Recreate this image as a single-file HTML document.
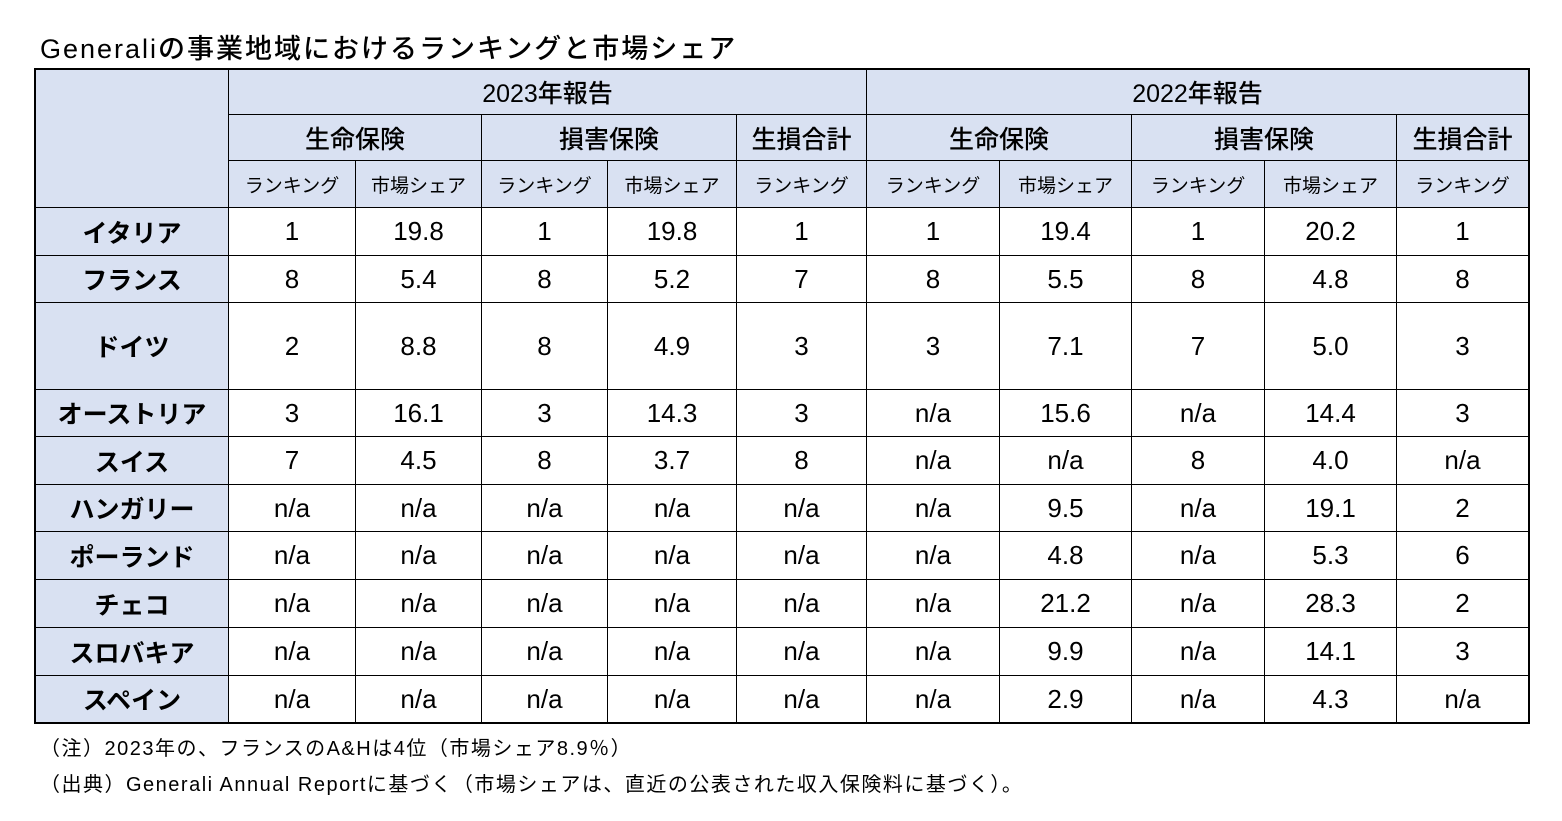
<!DOCTYPE html>
<html><head><meta charset="utf-8"><style>
body{margin:0;width:1562px;height:821px;background:#fff;position:relative;overflow:hidden;font-family:"Liberation Sans","Noto Sans CJK JP",sans-serif;color:#000}
.c{position:absolute;box-sizing:border-box;display:flex;align-items:center;justify-content:center;border:1px solid #000;white-space:nowrap}
.h{background:#d9e1f2}
#title{position:absolute;left:40px;top:27px;font-size:27px;font-weight:500;letter-spacing:2px;white-space:nowrap}
.note{position:absolute;left:40px;font-size:20px;letter-spacing:1.5px;white-space:nowrap}
</style></head><body>
<div id="title">Generaliの事業地域におけるランキングと市場シェア</div>
<div id="tbl"></div>
<div class="note" style="top:732px">（注）2023年の、フランスのA&amp;Hは4位（市場シェア8.9％）</div>
<div class="note" style="top:768px">（出典）Generali Annual Reportに基づく（市場シェアは、直近の公表された収入保険料に基づく）。</div>
<script>
const countries=["イタリア","フランス","ドイツ","オーストリア","スイス","ハンガリー","ポーランド","チェコ","スロバキア","スペイン"];
const rows=[
["1","19.8","1","19.8","1","1","19.4","1","20.2","1"],
["8","5.4","8","5.2","7","8","5.5","8","4.8","8"],
["2","8.8","8","4.9","3","3","7.1","7","5.0","3"],
["3","16.1","3","14.3","3","n/a","15.6","n/a","14.4","3"],
["7","4.5","8","3.7","8","n/a","n/a","8","4.0","n/a"],
["n/a","n/a","n/a","n/a","n/a","n/a","9.5","n/a","19.1","2"],
["n/a","n/a","n/a","n/a","n/a","n/a","4.8","n/a","5.3","6"],
["n/a","n/a","n/a","n/a","n/a","n/a","21.2","n/a","28.3","2"],
["n/a","n/a","n/a","n/a","n/a","n/a","9.9","n/a","14.1","3"],
["n/a","n/a","n/a","n/a","n/a","n/a","2.9","n/a","4.3","n/a"]];
const X=[35,228,355,481,607,736,866,999,1131,1264,1396,1528];
const Y=[69,114,160,207,255,302,389,436,484,531,579,627,675,722];
const tbl=document.getElementById('tbl');
function cell(c0,c1,r0,r1,txt,cls,fs,fw,name){
 const d=document.createElement('div');
 d.className='c '+cls;
 d.style.left=X[c0]+'px';d.style.top=Y[r0]+'px';
 d.style.width=(X[c1]-X[c0]+1)+'px';d.style.height=(Y[r1]-Y[r0]+1)+'px';
 d.style.fontSize=fs+'px';d.style.fontWeight=fw;
 d.textContent=txt;
 
 
 tbl.appendChild(d);
}
cell(0,1,0,3,'','h',20,400,'corner-cell');
cell(1,6,0,1,'2023年報告','h',25,500,'year-2023-header');
cell(6,11,0,1,'2022年報告','h',25,500,'year-2022-header');
const groups=[[1,3,'生命保険'],[3,5,'損害保険'],[5,6,'生損合計'],[6,8,'生命保険'],[8,10,'損害保険'],[10,11,'生損合計']];
groups.forEach(g=>cell(g[0],g[1],1,2,g[2],'h',25,500,'group-header'));
for(let i=1;i<11;i++){
 const s=[1,3,5,6,8,10].includes(i)?'ランキング':'市場シェア';
 cell(i,i+1,2,3,s,'h',19,400,'sub-header');
}
countries.forEach((c,r)=>{
 cell(0,1,r+3,r+4,c,'h',25,700,'country-label');
 rows[r].forEach((v,i)=>cell(i+1,i+2,r+3,r+4,v,'',26,400,'data-cell'));
});
const o=document.createElement('div');


o.style.cssText='position:absolute;left:34px;top:68px;width:1496px;height:656px;border:2px solid #000;box-sizing:border-box;pointer-events:none';
tbl.appendChild(o);
</script>
</body></html>
